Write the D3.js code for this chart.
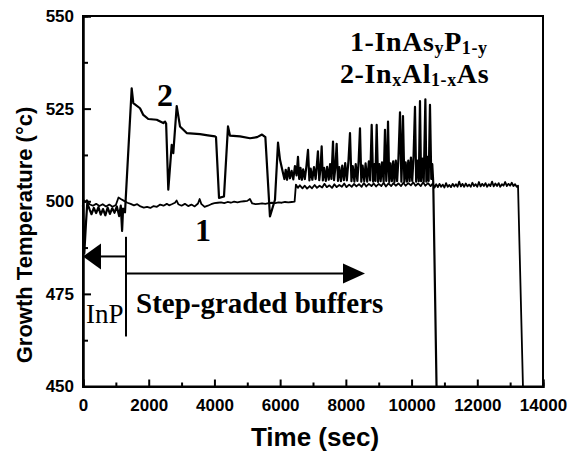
<!DOCTYPE html>
<html>
<head>
<meta charset="utf-8">
<script src="https://cdn.jsdelivr.net/npm/d3@7"></script>
<style>
  html, body { margin: 0; padding: 0; background: #fff; }
  svg { display: block; }
</style>
</head>
<body>
<svg id="chart" width="571" height="460"></svg>
<script>
// ---------- data ----------
const xTicks = [0, 2000, 4000, 6000, 8000, 10000, 12000, 14000];
const xMinorTicks = [1000, 3000, 5000, 7000, 9000, 11000, 13000];
const yTicks = [450, 475, 500, 525, 550];
const yMinorTicks = [462.5, 487.5, 512.5, 537.5];

// Series 1: InAsyP1-y  [time (s), temperature (°C)]
const series1 = [
  [0,500.5],[60,499.8],[120,500.3],[200,499.2],[300,498.8],[400,499.3],[500,498.7],[600,499.2],
  [700,498.6],[800,499.1],[900,498.5],[1000,499],[1080,501],[1150,500.6],[1250,500.1],[1350,499.6],
  [1450,499.3],[1550,498.9],[1650,499.2],[1750,498.6],[1850,498.3],[1950,498.5],[2050,498.2],
  [2150,498.7],[2250,498.5],[2350,499.1],[2450,498.8],[2550,499.3],[2620,498.9],[2700,499.2],
  [2800,499.6],[2850,500.2],[2900,499.2],[3000,498.8],[3100,499.3],[3200,498.7],[3300,499.1],
  [3400,498.6],[3500,499.4],[3550,500.6],[3600,499.3],[3700,498.5],[3800,498.8],[3900,499.2],
  [4000,499.5],[4100,499.6],[4200,499.7],[4300,499.5],[4400,499.8],[4500,499.6],[4600,499.9],
  [4700,499.7],[4800,499.9],[4900,500],[5000,500.1],[5080,500.6],[5150,499.4],[5250,499.2],
  [5350,499.3],[5450,499.4],[5550,499.3],[5650,499.5],[5750,499.6],[5850,499.5],[5950,499.7],
  [6050,499.6],[6150,499.8],[6250,499.7],[6350,499.8],[6440,499.9],[6480,504.5],[6540,503.6],
  [6600,504.3],[6680,503.5],[6750,504.2],[6820,503.4],[6900,504.1],[6970,503.5],[7050,504.4],
  [7120,503.6],[7200,504.2],[7280,503.7],[7350,504.7],[7420,503.8],[7500,504.3],[7580,503.6],
  [7650,504.6],[7720,503.8],[7800,504.4],[7880,503.9],[7950,504.8],[8020,503.8],[8100,504.5],
  [8180,503.9],[8250,504.7],[8320,504],[8400,504.6],[8480,503.9],[8550,504.9],[8620,504],
  [8700,504.7],[8780,504.1],[8850,504.8],[8920,504],[9000,504.7],[9080,504.1],[9150,505],
  [9220,504],[9300,504.8],[9380,504.1],[9450,504.9],[9520,504.2],[9600,504.8],[9680,504.1],
  [9750,505],[9820,504.2],[9900,504.9],[9980,504.3],[10050,505.1],[10120,504.2],[10200,504.8],
  [10280,504.1],[10350,505.1],[10420,504.2],[10500,504.9],[10580,504.1],[10650,504.8],
  [10700,503.7],[10750,504.6],[10800,503.8],[10850,504.7],[10900,503.9],[10950,504.5],
  [11000,503.7],[11050,504.9],[11100,503.9],[11150,504.4],[11200,503.8],[11250,504.7],
  [11300,504],[11350,504.6],[11400,503.9],[11450,505.3],[11500,504],[11550,504.7],[11600,503.9],
  [11650,504.8],[11700,504],[11750,504.5],[11800,503.9],[11850,505],[11900,504.1],[11950,504.6],
  [12000,503.9],[12050,505.2],[12100,504],[12150,504.7],[12200,504.1],[12250,504.9],[12300,503.9],
  [12350,504.6],[12400,504.1],[12450,505.3],[12500,504],[12550,504.8],[12600,504.1],[12650,504.9],
  [12700,503.9],[12750,504.6],[12800,504.2],[12850,505.2],[12900,504.1],[12950,504.7],
  [13000,504.2],[13050,505],[13100,504.1],[13150,504.6],[13200,503.9],[13240,504.2],[13390,450]
];

// Series 2: InxAl1-xAs  [time (s), temperature (°C)]
const series2 = [
  [0,499],[40,486],[90,494],[130,499.5],[200,497.8],[260,496.5],[330,498.2],[400,496.8],
  [470,498.4],[540,496.4],[610,497.9],[680,496.2],[750,498.3],[820,496.6],[890,498.1],
  [960,496.9],[1030,498.6],[1100,496],[1150,498.8],[1190,492],[1220,498],[1278,497],
  [1482,530.5],[1531,526.5],[1735,525.1],[1835,523.3],[1987,522.2],[2243,522],[2444,521.1],
  [2496,521.5],[2530,521],[2596,503.1],[2700,515.2],[2748,513],[2852,525.7],[2952,520.2],
  [3156,518.4],[3561,518.1],[3800,517.8],[4017,517.5],[4048,517.3],[4140,500.9],[4291,501.3],
  [4413,520.2],[4474,517.7],[4778,517.5],[5083,517],[5300,517.3],[5448,518],[5550,517.3],
  [5690,495.9],[5843,500.4],[5935,515.8],[5996,511.2],[6087,507.6],[6130,506],[6170,508.5],
  [6210,505.8],[6260,509],[6300,506.2],[6350,508.2],[6400,505.9],[6450,509.5],[6500,507],
  [6543,512],[6580,506],[6620,509],[6660,505.8],[6700,508.6],[6750,506],[6800,509.5],
  [6848,513.9],[6890,505.6],[6930,508.8],[6980,505.8],[7030,509.2],[7080,506],[7120,510],
  [7150,513.5],[7190,505.7],[7230,509],[7264,514.8],[7300,505.6],[7340,509],[7390,505.5],
  [7430,509.3],[7480,505.8],[7520,510],[7560,506],[7609,516.1],[7640,505.7],[7680,509],
  [7720,515.5],[7760,505.5],[7800,509.2],[7850,505.4],[7890,509.6],[7940,505.7],[7980,510.3],
  [8030,505.6],[8080,511],[8126,518.4],[8170,505.4],[8210,509.5],[8260,505.3],[8300,510],
  [8350,505.5],[8390,511],[8430,519.7],[8470,505.3],[8510,509.6],[8560,505.4],[8600,510.2],
  [8650,505.3],[8700,510.8],[8740,505.6],[8786,520.6],[8830,505.3],[8870,510],[8900,505.5],
  [8938,520.6],[8980,505.2],[9020,510],[9060,505.4],[9100,510.5],[9150,505.3],[9191,519.3],
  [9230,505.5],[9260,510],[9283,521.5],[9320,505.2],[9360,510.2],[9400,505.4],[9440,510.8],
  [9480,505.2],[9520,511],[9560,505.4],[9600,511.5],[9648,524],[9690,505.3],[9710,510],
  [9739,523],[9780,505.2],[9820,510.5],[9860,505.3],[9900,511],[9940,505.4],[9980,511.8],
  [10020,505.5],[10060,512],[10104,525.5],[10140,505.3],[10180,511],[10220,505.4],[10256,527],
  [10290,505.4],[10330,511.5],[10370,505.3],[10420,527.5],[10450,505.3],[10490,512],
  [10520,505.5],[10560,526],[10600,506],[10630,510],[10660,505],[10760,450]
];

// annotation values (data units)
const stepStart = 1309;      // boundary InP / step-graded buffers
const bracketTop = 490.4, bracketBottom = 463.5;
const inpArrowY = 485.1;
const bufArrowY = 480.5, bufArrowEnd = 8583;

// ---------- layout ----------
const svg = d3.select("#chart");
const mLeft = 83, mRight = 543, mTop = 16, mBottom = 386.5;
const x = d3.scaleLinear().domain([0, 14000]).range([mLeft, mRight]);
const y = d3.scaleLinear().domain([450, 550]).range([mBottom, mTop]);

const sans = "'Liberation Sans', Arial, Helvetica, sans-serif";
const serif = "'Liberation Serif', 'Times New Roman', Times, serif";

// data lines
const line = d3.line().x(d => x(d[0])).y(d => y(d[1]));
svg.append("path").datum(series1).attr("d", line)
  .attr("fill", "none").attr("stroke", "#000").attr("stroke-width", 1.8).attr("stroke-linejoin", "round");
svg.append("path").datum(series2).attr("d", line)
  .attr("fill", "none").attr("stroke", "#000").attr("stroke-width", 2.2).attr("stroke-linejoin", "round");

// frame (top & right)
svg.append("rect").attr("x", mLeft).attr("y", mTop).attr("width", mRight - mLeft).attr("height", mBottom - mTop)
  .attr("fill", "none").attr("stroke", "#000").attr("stroke-width", 2);

// axes
const xAxis = svg.append("g").attr("transform", `translate(0,${mBottom})`)
  .call(d3.axisBottom(x).tickValues(xTicks).tickSize(-7).tickPadding(12).tickFormat(d3.format("d")));
const xMinor = svg.append("g").attr("transform", `translate(0,${mBottom})`)
  .call(d3.axisBottom(x).tickValues(xMinorTicks).tickSize(-4).tickFormat(""));
const yAxis = svg.append("g").attr("transform", `translate(${mLeft},0)`)
  .call(d3.axisLeft(y).tickValues(yTicks).tickSize(-8).tickPadding(9).tickFormat(d3.format("d")));
const yMinor = svg.append("g").attr("transform", `translate(${mLeft},0)`)
  .call(d3.axisLeft(y).tickValues(yMinorTicks).tickSize(-5).tickFormat(""));

[xAxis, xMinor, yAxis, yMinor].forEach(g => {
  g.select(".domain").attr("stroke", "#000").attr("stroke-width", 2);
  g.selectAll(".tick line").attr("stroke", "#000").attr("stroke-width", 2);
  g.selectAll("text").attr("font-family", sans).attr("font-weight", "bold")
    .attr("font-size", 17).attr("fill", "#000");
});
xAxis.selectAll("text").attr("dy", "0.71em");

// axis titles
svg.append("text").attr("x", 315).attr("y", 446).attr("text-anchor", "middle")
  .attr("font-family", sans).attr("font-weight", "bold").attr("font-size", 26).text("Time (sec)");
svg.append("text").attr("transform", "translate(32,235) rotate(-90)").attr("text-anchor", "middle")
  .attr("font-family", sans).attr("font-weight", "bold").attr("font-size", 22).text("Growth Temperature (°c)");

// annotations: bracket and arrows
svg.append("line").attr("x1", x(stepStart)).attr("x2", x(stepStart))
  .attr("y1", y(bracketTop)).attr("y2", y(bracketBottom)).attr("stroke", "#000").attr("stroke-width", 2);
svg.append("line").attr("x1", x(stepStart)).attr("x2", x(0) + 12)
  .attr("y1", y(inpArrowY)).attr("y2", y(inpArrowY)).attr("stroke", "#000").attr("stroke-width", 2);
svg.append("path")
  .attr("d", `M${x(0)},${y(inpArrowY)} L${x(0) + 18},${y(inpArrowY) - 13} L${x(0) + 18},${y(inpArrowY) + 13} Z`)
  .attr("fill", "#000");
svg.append("line").attr("x1", x(stepStart)).attr("x2", x(bufArrowEnd) - 12)
  .attr("y1", y(bufArrowY)).attr("y2", y(bufArrowY)).attr("stroke", "#000").attr("stroke-width", 2);
svg.append("path")
  .attr("d", `M${x(bufArrowEnd)},${y(bufArrowY)} L${x(bufArrowEnd) - 22},${y(bufArrowY) - 10} L${x(bufArrowEnd) - 22},${y(bufArrowY) + 10} Z`)
  .attr("fill", "#000");

svg.append("text").attr("x", 86).attr("y", 323).attr("font-family", serif).attr("font-size", 27).text("InP");
svg.append("text").attr("x", 136).attr("y", 313).attr("font-family", serif).attr("font-weight", "bold")
  .attr("font-size", 29).text("Step-graded buffers");

// series labels
svg.append("text").attr("x", 157).attr("y", 106).attr("font-family", serif).attr("font-weight", "bold")
  .attr("font-size", 32).text("2");
svg.append("text").attr("x", 195).attr("y", 241).attr("font-family", serif).attr("font-weight", "bold")
  .attr("font-size", 32).text("1");

// legend text
function legendLine(xp, yp, parts) {
  const t = svg.append("text").attr("x", xp).attr("y", yp).attr("font-family", serif)
    .attr("font-weight", "bold").attr("font-size", 28).attr("letter-spacing", 0.6);
  let shifted = false;
  parts.forEach(p => {
    const ts = t.append("tspan").text(p.s);
    if (p.sub && !shifted) { ts.attr("dy", 3).attr("font-size", 18); shifted = true; }
    else if (p.sub) { ts.attr("font-size", 18); }
    else if (!p.sub && shifted) { ts.attr("dy", -3); shifted = false; }
  });
}
legendLine(350, 51, [{s: "1-InAs"}, {s: "y", sub: true}, {s: "P"}, {s: "1-y", sub: true}]);
legendLine(340, 83, [{s: "2-In"}, {s: "x", sub: true}, {s: "Al"}, {s: "1-x", sub: true}, {s: "As"}]);
</script>
</body>
</html>
